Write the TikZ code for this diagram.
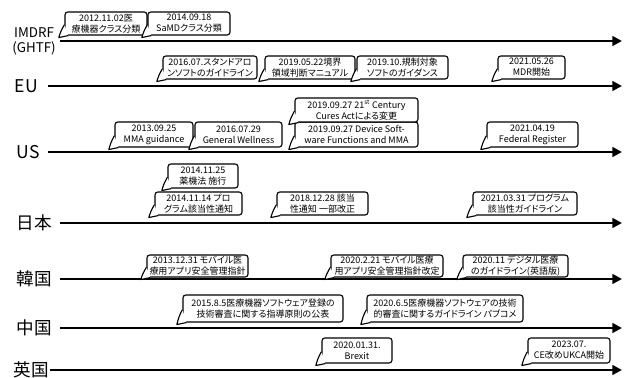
\documentclass[tikz,border=0pt]{standalone}
\usepackage{fontspec}
\setmainfont{Noto Sans CJK JP}[RawFeature=+palt]
\usetikzlibrary{arrows.meta}

\begin{document}
\begin{tikzpicture}[
  axis/.style={line width=1.8pt, -{Triangle[length=0.24cm,width=0.24cm]}},
  country/.style={font=\fontsize{12.5}{13}\selectfont, inner xsep=0.2cm, inner ysep=0pt, anchor=east, align=center},
  event/.style={draw, line width=0.8pt, rounded corners=2pt, fill=white, align=center, inner sep=0pt, font=\fontsize{6.4}{7.8}\selectfont},
  tail/.style={line width=0.8pt, line join=round}
]
  \useasboundingbox (0,0) rectangle (15.75,9.45);

  % time lines
  \node[country, inner xsep=0.1cm, font=\fontsize{9.5}{10.6}\selectfont] (imdrf) at (1.5,8.425) {IMDRF\\(GHTF)};
  \node[country, inner xsep=0.25cm] (eu) at (1.2,7.3) {EU};
  \node[country] (us) at (1.2,5.65) {US};
  \node[country] (jp) at (1.5,3.875) {日本};
  \node[country] (kr) at (1.5,2.475) {韓国};
  \node[country] (cn) at (1.5,1.25) {中国};
  \node[country, inner xsep=0.02cm] (uk) at (1.25,0.2) {英国};

  \coordinate (imdrf-end) at (15.55,8.425);
  \coordinate (eu-end) at (15.55,7.3);
  \coordinate (us-end) at (15.55,5.65);
  \coordinate (jp-end) at (15.55,3.875);
  \coordinate (kr-end) at (15.55,2.475);
  \coordinate (cn-end) at (15.55,1.25);
  \coordinate (uk-end) at (15.55,0.2);

  \foreach \c in {imdrf,eu,us,jp,kr,cn,uk}
    \draw[axis] (\c.east) -- (\c-end);

  % IMDRF
  \node[event, minimum width=2.05cm, minimum height=0.575cm] (imdrf1) at (2.65,8.8625) {2012.11.02医\\療機器クラス分類};
  \node[event, minimum width=2.05cm, minimum height=0.575cm] (imdrf2) at (4.725,8.8625) {2014.09.18\\SaMDクラス分類};

  % EU
  \node[event, minimum width=2.35cm, minimum height=0.575cm] (eu1) at (5.25,7.7625) {2016.07.スタンドアロ\\ンソフトのガイドライン};
  \node[event, minimum width=2.25cm, minimum height=0.575cm] (eu2) at (7.75,7.7625) {2019.05.22境界\\領域判断マニュアル};
  \node[event, minimum width=2.275cm, minimum height=0.575cm] (eu3) at (10.0625,7.7625) {2019.10.規制対象\\ソフトのガイダンス};
  \node[event, minimum width=1.675cm, minimum height=0.575cm] (eu4) at (13.2875,7.7625) {2021.05.26\\MDR開始};

  % US
  \node[event, minimum width=1.95cm, minimum height=0.625cm] (us1) at (3.85,6.0875) {2013.09.25\\MMA guidance};
  \node[event, minimum width=2.175cm, minimum height=0.625cm] (us2) at (5.9625,6.0875) {2016.07.29\\General Wellness};
  \node[event, minimum width=3.075cm, minimum height=0.625cm] (us3) at (8.9125,6.0875) {2019.09.27 Device Soft-\\ware Functions and MMA};
  \node[event, minimum width=3.075cm, minimum height=0.6cm] (us4) at (8.9125,6.7) {2019.09.27 21\textsuperscript{st} Century\\Cures Actによる変更};
  \node[event, minimum width=2.275cm, minimum height=0.625cm] (us5) at (13.3125,6.0875) {2021.04.19\\Federal Register};

  % Japan
  \node[event, minimum width=1.75cm, minimum height=0.6cm] (jp1) at (5.075,5.05) {2014.11.25\\薬機法 施行};
  \node[event, minimum width=2.175cm, minimum height=0.575cm] (jp2) at (4.9625,4.3625) {2014.11.14 プロ\\グラム該当性通知};
  \node[event, minimum width=2.275cm, minimum height=0.575cm] (jp3) at (8.0625,4.3625) {2018.12.28 該当\\性通知 一部改正};
  \node[event, minimum width=2.6cm, minimum height=0.575cm] (jp4) at (13.125,4.3625) {2021.03.31 プログラム\\該当性ガイドライン};

  % Korea
  \node[event, minimum width=2.525cm, minimum height=0.55cm] (kr1) at (4.9375,2.8) {2013.12.31 モバイル医\\療用アプリ安全管理指針};
  \node[event, minimum width=2.8cm, minimum height=0.55cm] (kr2) at (9.675,2.8) {2020.2.21 モバイル医療\\用アプリ安全管理指針改定};
  \node[event, minimum width=2.625cm, minimum height=0.55cm] (kr3) at (12.8875,2.8) {2020.11 デジタル医療\\のガイドライン(英語版)};

  % China
  \node[event, minimum width=4.0cm, minimum height=0.675cm] (cn1) at (6.575,1.7375) {2015.8.5医療機器ソフトウェア登録の\\技術審査に関する指導原則の公表};
  \node[event, minimum width=3.9cm, minimum height=0.675cm] (cn2) at (11.125,1.7375) {2020.6.5医療機器ソフトウェアの技術\\的審査に関するガイドライン パブコメ};

  % UK
  \node[event, minimum width=1.75cm, minimum height=0.625cm] (uk1) at (8.925,0.6875) {2020.01.31.\\Brexit};
  \node[event, minimum width=2.05cm, minimum height=0.625cm] (uk2) at (14.225,0.6875) {2023.07.\\CE改めUKCA開始};

  % callout tails
  \foreach \n in {imdrf1,imdrf2,eu1,eu2,eu3,eu4,us1,us2,us3,us4,us5,jp1,jp2,jp3,jp4,kr1,kr2,kr3,cn1,cn2,uk1,uk2} {
    \fill[white] ([yshift=-0.03cm]\n.west) to[out=-120,in=75] ([xshift=-0.14cm,yshift=-0.05cm]\n.south west) to[out=15,in=-165] ([xshift=0.1cm]\n.south west) -- cycle;
    \draw[tail] ([yshift=-0.03cm]\n.west) to[out=-120,in=75] ([xshift=-0.14cm,yshift=-0.05cm]\n.south west) to[out=15,in=-165] ([xshift=0.1cm]\n.south west);
  }
\end{tikzpicture}
\end{document}
